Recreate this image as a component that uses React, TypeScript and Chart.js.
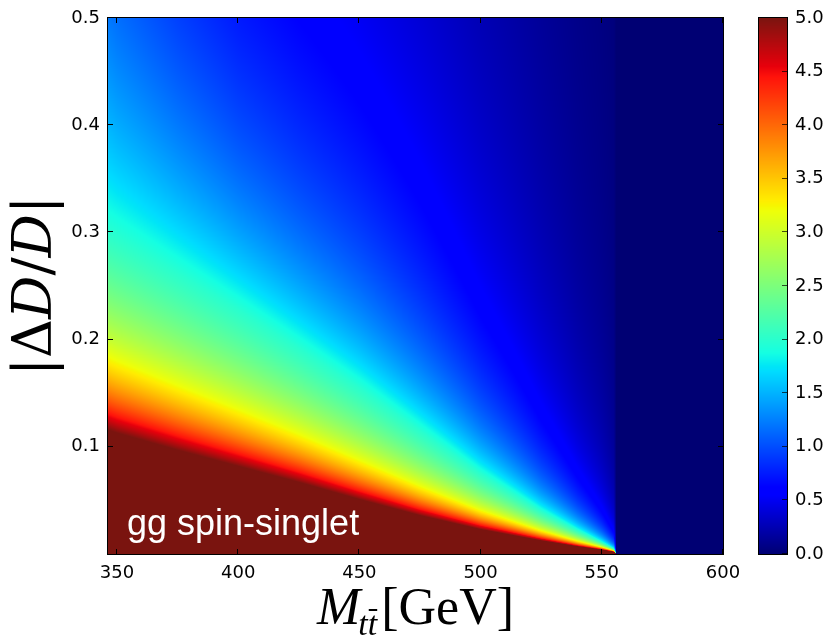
import React, { useEffect, useRef } from "react";
import { Chart, registerables } from "chart.js";

Chart.register(...registerables);

// Mass grid (GeV) of the heat-map columns
const massGeV = [346.3, 350, 375, 400, 425, 450, 475, 500, 525, 540, 550, 555, 556, 600];
// |ΔD/D| where the significance reaches 5 (saturated dark red) for each mass
const saturationDepth = [0.116, 0.113, 0.097, 0.082, 0.067, 0.051, 0.036, 0.023, 0.0125, 0.007, 0.004, 0.002, 0, 0];
// |ΔD/D| of the cyan ridge (significance = 2) for each mass
const cyanDepth = [0.3, 0.295, 0.262, 0.228, 0.192, 0.155, 0.115, 0.075, 0.04, 0.022, 0.011, 0.005, 0, 0];
// significance read along the top edge (|ΔD/D| = 0.5) for each mass
const topSignificance = [1.22, 1.17, 0.94, 0.75, 0.62, 0.51, 0.39, 0.26, 0.15, 0.09, 0.06, 0.04, 0, 0];

const massTicks = [350, 400, 450, 500, 550, 600];
const depthTicks = [0.1, 0.2, 0.3, 0.4, 0.5];
const colorbarTicks = [0, 0.5, 1, 1.5, 2, 2.5, 3, 3.5, 4, 4.5, 5];

const X_MIN = 346.3;
const X_MAX = 600;
const Y_MIN = 0;
const Y_MAX = 0.5;
const V_MIN = 0;
const V_MAX = 5;
const V_CYAN = 2;
const TOP_DEPTH = 0.5;

function interp(xs: number[], ys: number[], x: number): number {
  if (x <= xs[0]) return ys[0];
  for (let i = 1; i < xs.length; i++) {
    if (x <= xs[i]) {
      const t = (x - xs[i - 1]) / (xs[i] - xs[i - 1]);
      return ys[i - 1] + t * (ys[i] - ys[i - 1]);
    }
  }
  return ys[ys.length - 1];
}

function jetSeg(pts: number[][], t: number): number {
  if (t <= pts[0][0]) return pts[0][1];
  for (let i = 1; i < pts.length; i++) {
    if (t <= pts[i][0]) {
      const f = (t - pts[i - 1][0]) / (pts[i][0] - pts[i - 1][0]);
      return pts[i - 1][1] + f * (pts[i][1] - pts[i - 1][1]);
    }
  }
  return pts[pts.length - 1][1];
}
const JR = [[0, 0], [0.35, 0], [0.66, 1], [0.89, 1], [1, 0.48]];
const JG = [[0, 0], [0.125, 0], [0.375, 1], [0.64, 1], [0.91, 0], [1, 0.08]];
const JB = [[0, 0.45], [0.11, 1], [0.34, 1], [0.65, 0], [1, 0.06]];
function jet(t: number): [number, number, number] {
  const c = Math.max(0, Math.min(1, t));
  return [
    Math.round(255 * jetSeg(JR, c)),
    Math.round(255 * jetSeg(JG, c)),
    Math.round(255 * jetSeg(JB, c)),
  ];
}

// significance at mass m and depth d, from the three read profiles (log-log between them)
function significance(m: number, d: number): number {
  const edge = interp(massGeV, saturationDepth, m);
  const cyan = interp(massGeV, cyanDepth, m);
  const topV = interp(massGeV, topSignificance, m);
  if (edge <= 0 || cyan <= edge || topV <= 0) return 0;
  if (d <= edge) return V_MAX;
  if (d <= cyan) {
    const p1 = Math.log(V_MAX / V_CYAN) / Math.log(cyan / edge);
    return V_MAX * Math.pow(edge / d, p1);
  }
  const p2 = Math.log(V_CYAN / topV) / Math.log(TOP_DEPTH / cyan);
  return V_CYAN * Math.pow(cyan / d, p2);
}

const heatmapPlugin = {
  id: "heatmap",
  beforeDatasetsDraw(chart: any) {
    const { ctx, chartArea, scales } = chart;
    const xs = scales.x;
    const ys = scales.y;
    const left = Math.round(chartArea.left);
    const top = Math.round(chartArea.top);
    const w = Math.round(chartArea.right) - left;
    const h = Math.round(chartArea.bottom) - top;
    const off = document.createElement("canvas");
    off.width = w;
    off.height = h;
    const octx = off.getContext("2d")!;
    const img = octx.createImageData(w, h);
    for (let i = 0; i < w; i++) {
      const m = xs.getValueForPixel(left + i + 0.5);
      for (let j = 0; j < h; j++) {
        const d = ys.getValueForPixel(top + j + 0.5);
        const v = significance(m, d);
        const [r, g, b] = jet((v - V_MIN) / (V_MAX - V_MIN));
        const k = (j * w + i) * 4;
        img.data[k] = r;
        img.data[k + 1] = g;
        img.data[k + 2] = b;
        img.data[k + 3] = 255;
      }
    }
    octx.putImageData(img, 0, 0);
    ctx.drawImage(off, left, top);
  },
  afterDraw(chart: any) {
    const { ctx, chartArea, scales } = chart;
    const xs = scales.x;
    const ys = scales.y;
    const cb = scales.cb;
    const L = Math.round(chartArea.left);
    const R = Math.round(chartArea.right);
    const T = Math.round(chartArea.top);
    const B = Math.round(chartArea.bottom);
    ctx.save();
    // frame
    ctx.strokeStyle = "#000";
    ctx.lineWidth = 1;
    ctx.strokeRect(L - 0.5, T - 0.5, R - L + 1, B - T + 1);
    // inward ticks
    ctx.beginPath();
    for (const t of massTicks) {
      const px = Math.round(xs.getPixelForValue(t)) - 0.5;
      ctx.moveTo(px, B);
      ctx.lineTo(px, B - 5);
      ctx.moveTo(px, T);
      ctx.lineTo(px, T + 5);
    }
    for (const t of depthTicks) {
      const py = Math.round(ys.getPixelForValue(t)) - 0.5;
      ctx.moveTo(L, py);
      ctx.lineTo(L + 5, py);
      ctx.moveTo(R, py);
      ctx.lineTo(R - 5, py);
    }
    ctx.stroke();

    // colour bar
    const cbL = Math.round(cb.left) + 36;
    const cbR = Math.round(cb.left) + 64;
    const cbT = Math.round(cb.top);
    const cbB = Math.round(cb.bottom);
    for (let py = cbT; py < cbB; py++) {
      const v = cb.getValueForPixel(py + 0.5);
      const [r, g, b] = jet((v - V_MIN) / (V_MAX - V_MIN));
      ctx.fillStyle = `rgb(${r},${g},${b})`;
      ctx.fillRect(cbL, py, cbR - cbL, 1);
    }
    ctx.strokeStyle = "#000";
    ctx.strokeRect(cbL - 0.5, cbT - 0.5, cbR - cbL + 1, cbB - cbT + 1);
    ctx.beginPath();
    for (const t of colorbarTicks) {
      const py = Math.round(cb.getPixelForValue(t)) - 0.5;
      ctx.moveTo(cbR, py);
      ctx.lineTo(cbR - 5, py);
    }
    ctx.strokeStyle = "rgba(0,0,0,0.7)";
    ctx.stroke();

    // annotation
    ctx.fillStyle = "#fff";
    ctx.font = "36px 'Liberation Sans', Arial, sans-serif";
    ctx.textAlign = "left";
    ctx.textBaseline = "alphabetic";
    ctx.fillText("gg spin-singlet", 127, 535);

    // x axis title: M_{t tbar}[GeV]
    ctx.fillStyle = "#000";
    const big = 52;
    const small = 34;
    const fItal = `italic ${big}px 'Liberation Serif', serif`;
    const fSub = `italic ${small}px 'Liberation Serif', serif`;
    const fRom = `${big}px 'Liberation Serif', serif`;
    ctx.font = fItal;
    const wM = ctx.measureText("M").width;
    ctx.font = fSub;
    const wt = ctx.measureText("t").width;
    const wSub = ctx.measureText("tt").width;
    ctx.font = fRom;
    const wG = ctx.measureText("[GeV]").width;
    const total = wM - 2 + wSub + 4 + wG;
    let x0 = (L + R) / 2 - total / 2;
    const base = 624;
    ctx.font = fItal;
    ctx.fillText("M", x0, base);
    x0 += wM - 2;
    ctx.font = fSub;
    ctx.fillText("tt", x0, base + 11);
    // bar over the second t
    ctx.fillRect(x0 + wt + 1, base + 11 - 26, wt - 1, 2);
    x0 += wSub + 4;
    ctx.font = fRom;
    ctx.fillText("[GeV]", x0, base);

    // y axis title: |ΔD/D|
    const yBig = 54;
    const yRom = `${yBig}px 'DejaVu Serif', serif`;
    const yItal = `italic ${yBig}px 'DejaVu Serif', serif`;
    const parts: [string, string][] = [
      ["|", yRom],
      ["Δ", yRom],
      ["D", yItal],
      ["/", yRom],
      ["D", yItal],
      ["|", yRom],
    ];
    let tw = 0;
    const ws: number[] = [];
    for (const [s, f] of parts) {
      ctx.font = f;
      const ww = ctx.measureText(s).width;
      ws.push(ww);
      tw += ww;
    }
    ctx.translate(51, (T + B) / 2);
    ctx.rotate(-Math.PI / 2);
    let cx = -tw / 2;
    parts.forEach(([s, f], i) => {
      ctx.font = f;
      ctx.fillText(s, cx, 0);
      cx += ws[i];
    });
    ctx.restore();
  },
};

export default function App() {
  const ref = useRef<HTMLCanvasElement | null>(null);
  useEffect(() => {
    if (!ref.current) return;
    const tickFont = { family: "'DejaVu Sans', sans-serif", size: 18 };
    const vertFit = (w: number) => (s: any) => {
      s.width = w;
      s.paddingTop = 0;
      s.paddingBottom = 0;
    };
    const chart = new Chart(ref.current, {
      type: "scatter",
      data: { datasets: [] },
      plugins: [heatmapPlugin],
      options: {
        animation: false,
        responsive: false,
        events: [],
        layout: { padding: { top: 18, left: 0, right: 0, bottom: 0 } },
        plugins: { legend: { display: false }, tooltip: { enabled: false } },
        scales: {
          x: {
            type: "linear",
            position: "bottom",
            min: X_MIN,
            max: X_MAX,
            grid: { display: false, drawTicks: false },
            border: { display: false },
            afterBuildTicks: (s: any) => {
              s.ticks = massTicks.map((v) => ({ value: v }));
            },
            afterFit: (s: any) => {
              s.height = 87;
              s.paddingLeft = 0;
              s.paddingRight = 0;
            },
            ticks: {
              color: "#000",
              font: tickFont,
              padding: 9,
              maxRotation: 0,
              autoSkip: false,
              callback: (v: any) => String(v),
            },
          },
          y: {
            type: "linear",
            position: "left",
            min: Y_MIN,
            max: Y_MAX,
            grid: { display: false, drawTicks: false },
            border: { display: false },
            afterBuildTicks: (s: any) => {
              s.ticks = depthTicks.map((v) => ({ value: v }));
            },
            afterFit: vertFit(108),
            ticks: {
              color: "#000",
              font: tickFont,
              padding: 8,
              autoSkip: false,
              callback: (v: any) => Number(v).toFixed(1),
            },
          },
          cb: {
            type: "linear",
            axis: "y",
            position: "right",
            min: V_MIN,
            max: V_MAX,
            grid: { display: false, drawTicks: false },
            border: { display: false },
            afterBuildTicks: (s: any) => {
              s.ticks = colorbarTicks.map((v) => ({ value: v }));
            },
            afterFit: vertFit(108),
            ticks: {
              color: "#000",
              font: tickFont,
              padding: 72,
              autoSkip: false,
              callback: (v: any) => Number(v).toFixed(1),
            },
          },
        },
      } as any,
    });
    return () => chart.destroy();
  }, []);
  return (
    <div style={{ position: "absolute", left: 0, top: 0, width: 831, height: 641, background: "#fff" }}>
      <canvas ref={ref} width={831} height={641} style={{ display: "block" }} />
    </div>
  );
}
